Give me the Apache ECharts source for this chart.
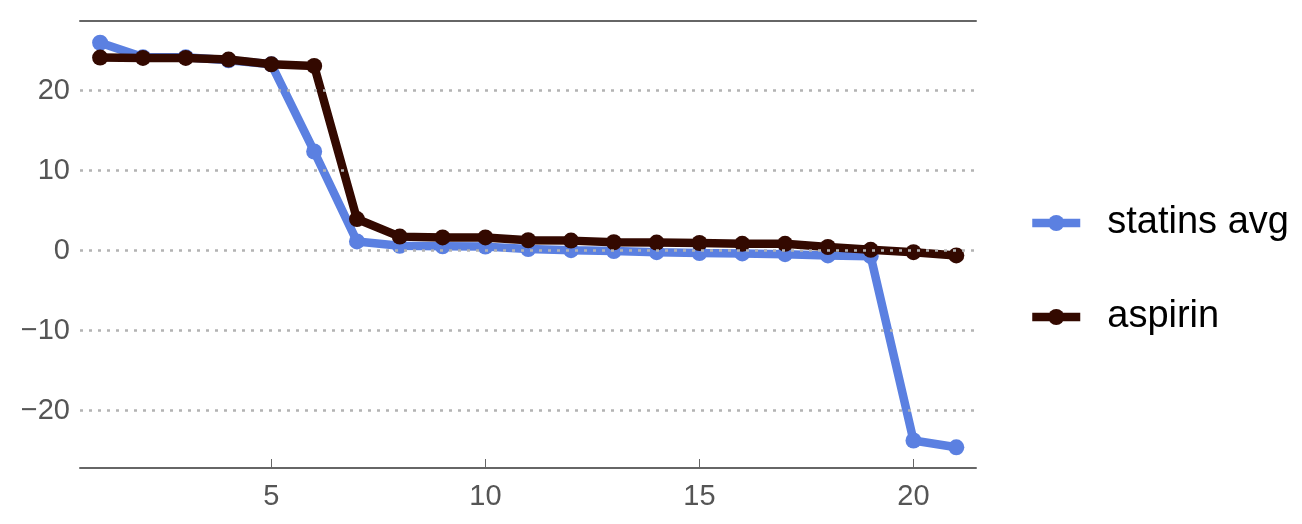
<!DOCTYPE html>
<html>
<head>
<meta charset="utf-8">
<script src="https://cdn.jsdelivr.net/npm/echarts@6/dist/echarts.min.js"></script>
<style>html,body{margin:0;padding:0;background:#fff}#c{width:1302px;height:524px}</style>
</head>
<body>
<div id="c"></div>
<script>
const xValues = [1,2,3,4,5,6,7,8,9,10,11,12,13,14,15,16,17,18,19,20,21];
const statinsAvg = [26.0,24.2,24.2,23.8,23.3,12.4,1.15,0.6,0.55,0.5,0.2,0.05,-0.05,-0.2,-0.3,-0.35,-0.45,-0.6,-0.7,-23.75,-24.6];
const aspirin = [24.15,24.1,24.1,23.9,23.3,23.1,3.95,1.75,1.65,1.65,1.3,1.25,1.05,1.0,0.95,0.85,0.85,0.45,0.1,-0.2,-0.6];
const xTicks = [5,10,15,20];
const yTicks = [-20,-10,0,10,20];
const seriesNames = ['statins avg','aspirin'];
const colors = ['#5b80e1','#330900'];

const fmt = v => String(v).replace('-', '\u2212');
const chart = echarts.init(document.getElementById('c'));
const mk = (name, vals, color, z) => ({
  name, type:'line', data: xValues.map((x,i)=>[x, vals[i]]),
  symbol:'circle', symbolSize:16, z,
  lineStyle:{width:8.5, color}, itemStyle:{color},
  emphasis:{disabled:true}, animation:false
});
const s1 = mk(seriesNames[0], statinsAvg, colors[0], 2);
s1.markLine = {
  silent:true, symbol:'none', animation:false,
  label:{show:false},
  lineStyle:{color:'#b3b3b3', type:[3,6], width:2.5},
  data: yTicks.map(v=>({yAxis:v}))
};
chart.setOption({
  animation:false,
  textStyle:{fontFamily:'Liberation Sans, Arial, sans-serif'},
  grid:{left:80, right:326, top:21, bottom:56},
  legend:{
    orient:'vertical', left:1023, top:199, itemWidth:48, itemHeight:20, itemGap:56,
    lineStyle:{width:8.5},
    textStyle:{fontSize:38, color:'#000', padding:[0,0,0,22], fontFamily:'Liberation Sans, Arial, sans-serif'},
    data: seriesNames
  },
  xAxis:[{
    type:'value', min:0.53, max:21.46, position:'bottom',
    axisLine:{show:true, onZero:false, lineStyle:{color:'#666', width:2}},
    axisTick:{show:true, inside:true, length:9, lineStyle:{color:'#666', width:1}, customValues:xTicks},
    axisLabel:{fontSize:29, color:'#555', margin:14, customValues:xTicks, formatter:fmt},
    splitLine:{show:false}
  },{
    type:'value', min:0.53, max:21.46, position:'top',
    axisLine:{show:true, onZero:false, lineStyle:{color:'#666', width:2}},
    axisTick:{show:false}, axisLabel:{show:false}, splitLine:{show:false}
  }],
  yAxis:{
    type:'value', min:-27.19, max:28.72,
    axisLine:{show:false}, axisTick:{show:false},
    axisLabel:{fontSize:29, color:'#555', margin:10, customValues:yTicks, formatter:fmt},
    splitLine:{show:false}
  },
  series:[s1, mk(seriesNames[1], aspirin, colors[1], 3)]
});
</script>
</body>
</html>
